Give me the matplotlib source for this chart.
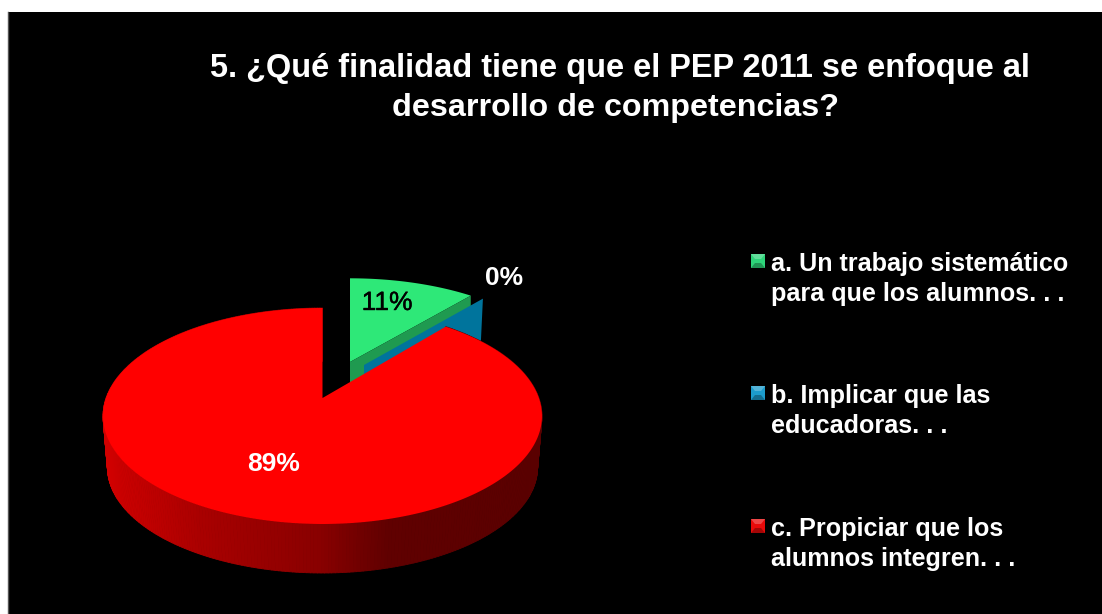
#!/usr/bin/env python3
import matplotlib
matplotlib.use('Agg')
import matplotlib.pyplot as plt
import matplotlib.patheffects as pe
from matplotlib.collections import PolyCollection
from matplotlib.patches import Polygon, Rectangle
import numpy as np

title_lines = ['5. ¿Qué finalidad tiene que el PEP 2011 se enfoque al',
               'desarrollo de competencias?']
legend_labels = ['a. Un trabajo sistemático\npara que los alumnos. . .',
                 'b. Implicar que las\neducadoras. . .',
                 'c. Propiciar que los\nalumnos integren. . .']
shares = [11.1, 0, 88.9]
share_labels = ['11%', '0%', '89%']
top_colors = ['#2ee878', '#00749c', '#ff0000']
side_colors = ['#1f9a50', '#00749c', '#a00000']
swatch_colors = ['#2ed47a', '#1c9ccc', '#e80a0a']

plt.rcParams['font.family'] = ['Liberation Sans', 'DejaVu Sans']

W, H = 1102, 614
RX, RY, PERSP = 216.4, 105.0, 0.1667


def rim(angles, apex, sx=1.0, sy=1.0):
    # clockwise degrees from 12 o'clock, perspective disc seen from the front
    t = np.radians(angles)
    w = 1 + PERSP * np.cos(t)
    xs = apex[0] + sx * RX * np.sin(t) / w
    ys = apex[1] - sy * RY * np.cos(t) / w
    return np.column_stack([xs, ys])


def plot():
    fig = plt.figure(figsize=(W / 100, H / 100), dpi=100, facecolor='white')
    ax = fig.add_axes([0, 0, 1, 1])
    ax.set_xlim(0, W)
    ax.set_ylim(H, 0)
    ax.axis('off')
    ax.add_patch(Rectangle((8, 12), W - 8, H - 12, fc='black', ec='none'))
    ax.plot([7.5, 7.5], [12, H], color='#555555', lw=1)

    ends = np.cumsum(shares) * 3.6
    starts = ends - np.array(shares) * 3.6

    # green slice, pulled out
    apex_g = (350, 362)
    t_g = np.linspace(starts[0], ends[0], 40)
    edge_g = rim(t_g, apex_g, 0.98, 0.93)
    ax.add_patch(Polygon(np.vstack([apex_g, edge_g]), fc=top_colors[0], ec='none', zorder=2))
    cut = edge_g[-1]
    ax.add_patch(Polygon([apex_g, cut, cut + [0, 21], np.add(apex_g, [0, 21])],
                         fc=side_colors[0], ec='none', zorder=3))

    # blue slice has no area, only its cut face shows
    apex_b = (364, 365)
    tip = rim(np.array([ends[1]]), apex_b, 0.965, 0.93)[0]
    ax.add_patch(Polygon([apex_b, tip, tip + [-2, 42], np.add(apex_b, [0, 42])],
                         fc=side_colors[1], ec='none', zorder=4))

    # red slice: side wall, then top
    apex_r = (322.5, 398)
    t_r = np.linspace(starts[2], ends[2], 400)
    upper = rim(t_r, apex_r)
    lower = rim(t_r, (apex_r[0], apex_r[1] + 51.5), 0.98, 0.98)
    quads = [[upper[i], upper[i + 1], lower[i + 1], lower[i]] for i in range(len(t_r) - 1)]
    grad_x = [102, 200, 323, 390, 541]
    grad_v = [210, 170, 136, 96, 90]
    levels = np.interp([q[0][0] for q in quads], grad_x, grad_v) / 255
    side_cols = [(v, 0, 0) for v in levels]
    ax.add_collection(PolyCollection(quads, facecolors=side_cols, edgecolors=side_cols,
                                     linewidths=0.6, zorder=5))
    ax.add_patch(Polygon(np.vstack([apex_r, upper]), fc=top_colors[2], ec='none', zorder=6))

    t = ax.text(387, 303, share_labels[0], color='black', fontsize=19, ha='center', va='center', zorder=7)
    t.set_path_effects([pe.withStroke(linewidth=0.3, foreground='black')])
    ax.text(504, 278, share_labels[1], color='white', fontsize=19, fontweight='bold',
            ha='center', va='center', zorder=7)
    ax.text(274, 464, share_labels[2], color='white', fontsize=19, fontweight='bold',
            ha='center', va='center', zorder=7)

    ax.text(620, 69, title_lines[0], color='white', fontsize=23.45, fontweight='bold',
            ha='center', va='center')
    ax.text(615, 108, title_lines[1], color='white', fontsize=23.2, fontweight='bold',
            ha='center', va='center')

    swatch_y = [254, 386, 519]
    text_y = [279, 411, 544]
    for label, col, sy, ty in zip(legend_labels, swatch_colors, swatch_y, text_y):
        ax.add_patch(Rectangle((751, sy), 14, 14, fc=col, ec='none'))
        ax.add_patch(Polygon([(751, sy), (765, sy), (761, sy + 5), (755, sy + 5)],
                             fc='white', alpha=0.25, ec='none'))
        ax.add_patch(Polygon([(751, sy + 14), (765, sy + 14), (761, sy + 9), (755, sy + 9)],
                             fc='black', alpha=0.3, ec='none'))
        ax.text(771, ty, label, color='white', fontsize=18.1, fontweight='bold',
                ha='left', va='center', linespacing=1.33)

    fig.savefig('out.png', dpi=100, facecolor='white')
    plt.close(fig)


if __name__ == "__main__":
    plot()
